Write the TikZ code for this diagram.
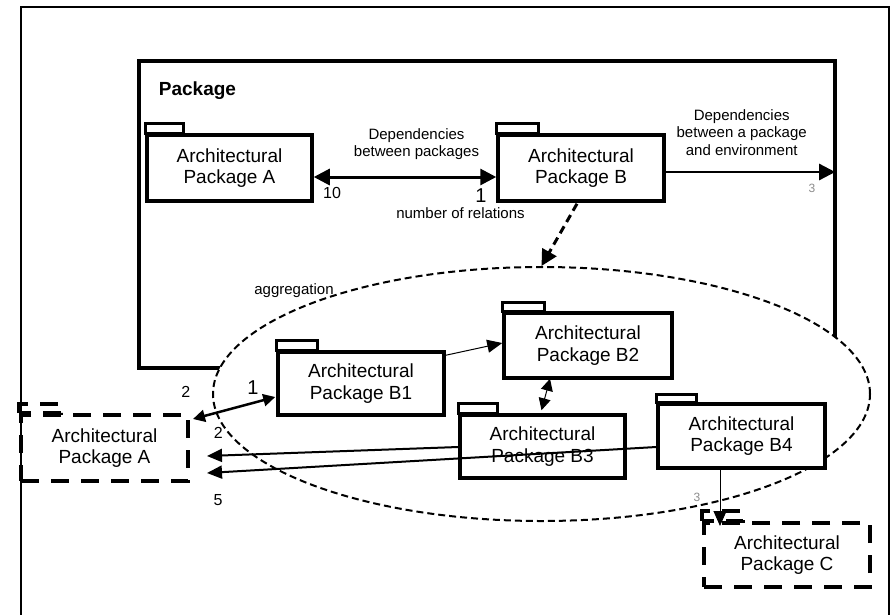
\documentclass[tikz,border=0pt]{standalone}
\usepackage{fontspec}
\setmainfont{Liberation Sans}
\usetikzlibrary{arrows.meta,shapes.geometric}
\tikzset{
  pkgbody/.style={draw, line width=3.5pt, fill=white, inner sep=0pt, align=center,
    font=\fontsize{19}{21.5}\selectfont},
  pkgtab/.style={draw, line width=3pt, fill=white},
  xpkg/.style={draw, line width=4pt, dash pattern=on 18pt off 12pt, inner sep=0pt, align=center,
    font=\fontsize{19}{21.5}\selectfont},
  xtab/.style={draw, line width=4pt, dash pattern=on 18pt off 12pt},
  lbl/.style={font=\fontsize{15}{16.5}\selectfont, align=center, inner sep=0pt},
  lblwide/.style={font=\fontsize{15}{17.5}\selectfont, align=center, inner sep=0pt},
  num/.style={font=\fontsize{16}{16}\selectfont, inner sep=0pt},
  bignum/.style={font=\fontsize{20}{20}\selectfont, inner sep=0pt},
  ghost/.style={font=\fontsize{12}{12}\selectfont, inner sep=0pt, text=black!45},
  TL/.tip={Triangle[length=16pt,width=16pt]},
  TM/.tip={Triangle[length=15pt,width=13pt]},
  TS/.tip={Triangle[length=12pt,width=12pt]},
}
\newcommand\pkgtabat[3]{\draw[pkgtab] (#1.north west) rectangle ++(#2,-#3);}
\newcommand\xtabat[3]{\draw[xtab] (#1.north west) rectangle ++(#2,-#3);}
\begin{document}
\begin{tikzpicture}[x=1pt,y=-1pt]
\useasboundingbox (0,0) rectangle (892,614);
% outer frame (open at the bottom, beyond the page)
\draw[line width=1.8pt] (21,620) -- (21,7) -- (889,7) -- (889,620);

% Package frame
\node[draw, line width=4pt, minimum width=696pt, minimum height=306.7pt, inner sep=0pt]
  (Pkg) at (486.7,214.65) {};
\node[font=\bfseries\fontsize{19}{19}\selectfont, inner sep=0pt] (title) at (197.5,91) {Package};

% aggregation ellipse
\node[lbl] (agglbl) at (294,291) {aggregation};
\node[draw, ellipse, line width=2pt, dash pattern=on 7pt off 4pt, fill=white,
  minimum width=657pt, minimum height=254pt, inner sep=0pt] (Agg) at (541.5,394) {};

% packages inside Package
\node[pkgbody, minimum width=165pt, minimum height=66pt] (PA) at (229.5,168) {Architectural\\Package A};
\pkgtabat{PA}{38}{10}
\node[pkgbody, minimum width=166pt, minimum height=66pt] (PB) at (581,168) {Architectural\\Package B};
\pkgtabat{PB}{42}{10}

% packages inside the aggregation
\node[pkgbody, minimum width=166pt, minimum height=63pt] (B1) at (361,383.5) {Architectural\\Package B1};
\pkgtabat{B1}{41}{10}
\node[pkgbody, minimum width=168pt, minimum height=65pt] (B2) at (588,345.5) {Architectural\\Package B2};
\pkgtabat{B2}{42}{9}
\node[pkgbody, minimum width=165pt, minimum height=63pt] (B3) at (542.5,446.5) {Architectural\\Package B3};
\pkgtabat{B3}{39}{10}
\node[pkgbody, minimum width=167pt, minimum height=64pt] (B4) at (741.5,436) {Architectural\\Package B4};
\pkgtabat{B4}{40}{8}

% environment packages
\node[xpkg, minimum width=167pt, minimum height=66pt] (XA) at (104.5,448) {Architectural\\Package A};
\xtabat{XA}{42}{9}
\node[xpkg, minimum width=166pt, minimum height=64pt] (XC) at (787,555) {Architectural\\Package C};
\xtabat{XC}{41}{10}

% connectors
\draw[line width=3pt, TL-TL] ([yshift=-9pt]PA.east) -- ([yshift=-9pt]PB.west);
\draw[line width=2.5pt, -TL] ([yshift=-4pt]PB.east) -- ([yshift=-4pt,xshift=-1.5pt]PB.east -| Pkg.east);
\draw[line width=3pt, dash pattern=on 8pt off 5pt, -TL] ([xshift=-4pt,yshift=-1pt]PB.south) -- (Agg.north);
\draw[line width=1pt, -TM] ([yshift=-5pt]B1.north east) -- ([yshift=2.5pt]B2.west);
\draw[line width=1pt, TS-TS] ([xshift=-38pt,yshift=1pt]B2.south) -- ([xshift=-1pt,yshift=3pt]B3.north);
\draw[line width=2.5pt, TS-TS] ([yshift=-13.5pt,xshift=-1pt]B1.west) -- ([xshift=3pt,yshift=-6pt]XA.north east);
\draw[line width=2pt, -TM] ([yshift=-0.5pt]B3.west) -- ([xshift=17pt,yshift=-8pt]XA.east);
\draw[line width=2pt, -TM] ([yshift=-11pt]B4.west) -- ([xshift=17pt,yshift=-25pt]XA.east);
\draw[line width=1pt, -TM] ([xshift=-21.5pt]B4.south) -- ([xshift=-67pt,yshift=-5pt]XC.north);

% labels
\node[lbl] (dep1) at (416.5,144) {Dependencies\\between packages};
\node[lblwide] (dep2) at (741.7,132.5) {Dependencies\\between a package\\and environment};
\node[num] (n10) at (332,193) {10};
\node[bignum] (n1a) at (481,196) {1};
\node[lbl] (nrel) at (460.5,213) {number of relations};
\node[ghost] (g3a) at (812,188) {3};
\node[bignum] (n1b) at (253,388) {1};
\node[num] (n2a) at (185.7,391.7) {2};
\node[num] (n2b) at (218.3,433.3) {2};
\node[num] (n5) at (218,499.7) {5};
\node[ghost] (g3b) at (697,497) {3};
\end{tikzpicture}
\end{document}
